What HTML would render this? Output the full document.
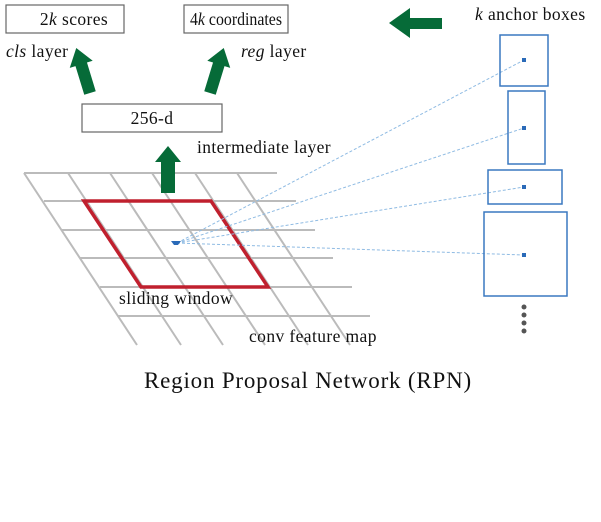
<!DOCTYPE html><html><head><style>body{margin:0;background:#fff}svg{display:block}text{font-family:"Liberation Serif",serif;fill:#111}</style></head><body>
<svg width="601" height="522" viewBox="0 0 601 522">
<g stroke="#bbb" stroke-width="2">
<line x1="24" y1="173" x2="277" y2="173"/><line x1="44" y1="201" x2="296" y2="201"/><line x1="62" y1="230" x2="315" y2="230"/><line x1="80" y1="258" x2="333" y2="258"/><line x1="100" y1="287" x2="352" y2="287"/><line x1="118" y1="316" x2="370" y2="316"/>
<line x1="24" y1="173" x2="137" y2="345"/><line x1="68" y1="173" x2="181" y2="345"/><line x1="110" y1="173" x2="223" y2="345"/><line x1="152" y1="173" x2="265" y2="345"/><line x1="195" y1="173" x2="308" y2="345"/><line x1="237" y1="173" x2="350" y2="345"/>
</g>
<polygon points="84,201 211,201 268,287 141,287" fill="none" stroke="#c0202e" stroke-width="3.5"/>
<g stroke="#8fbbe3" stroke-width="1" stroke-dasharray="3,2" fill="none">
<line x1="177" y1="243" x2="524" y2="60"/><line x1="177" y1="243" x2="524" y2="128"/><line x1="177" y1="243" x2="524" y2="187"/><line x1="177" y1="243" x2="524" y2="255"/>
</g>
<polygon points="171,241 181,241 178,245 174,245" fill="#2a6ab8"/>
<g fill="none" stroke="#3a78c0" stroke-width="1.5">
<rect x="500" y="35" width="48" height="51"/><rect x="508" y="91" width="37" height="73"/><rect x="488" y="170" width="74" height="34"/><rect x="484" y="212" width="83" height="84"/>
</g>
<g fill="#2a6ab8"><rect x="522" y="58" width="4" height="4"/><rect x="522" y="126" width="4" height="4"/><rect x="522" y="185" width="4" height="4"/><rect x="522" y="253" width="4" height="4"/></g>
<g fill="#555"><circle cx="524" cy="307" r="2.5"/><circle cx="524" cy="315" r="2.5"/><circle cx="524" cy="323" r="2.5"/><circle cx="524" cy="331" r="2.5"/></g>
<g fill="#fff" stroke="#666" stroke-width="1.2">
<rect x="6" y="5" width="118" height="28"/><rect x="184" y="5" width="104" height="28"/><rect x="82" y="104" width="140" height="28"/>
</g>
<g font-size="17.5" letter-spacing="0.4">
<text x="74" y="25" text-anchor="middle">2<tspan font-style="italic">k</tspan> scores</text>
<text x="190" y="25" letter-spacing="0" textLength="92" lengthAdjust="spacingAndGlyphs">4<tspan font-style="italic">k</tspan> coordinates</text>
<text x="152" y="124" text-anchor="middle">256-d</text>
<text x="6" y="57"><tspan font-style="italic">cls</tspan> layer</text>
<text x="241" y="57"><tspan font-style="italic">reg</tspan> layer</text>
<text x="475" y="20"><tspan font-style="italic">k</tspan> anchor boxes</text>
<text x="197" y="153">intermediate layer</text>
<text x="119" y="304">sliding window</text>
<text x="249" y="342">conv feature map</text>
</g>
<text x="308" y="388" font-size="23" letter-spacing="0.8" text-anchor="middle">Region Proposal Network (RPN)</text>
<g fill="#066b38">
<polygon points="161,193 161,162 155,162 168,146 181,162 175,162 175,193"/>
<polygon points="389,23 410,8 410,18 442,18 442,29 410,29 410,38"/>
<g transform="translate(90,93) rotate(-17)"><polygon points="-6,0 -6,-30 -12,-30 0,-47 12,-30 6,-30 6,0"/></g>
<g transform="translate(210,93) rotate(17)"><polygon points="-6,0 -6,-30 -12,-30 0,-47 12,-30 6,-30 6,0"/></g>
</g>
</svg></body></html>
